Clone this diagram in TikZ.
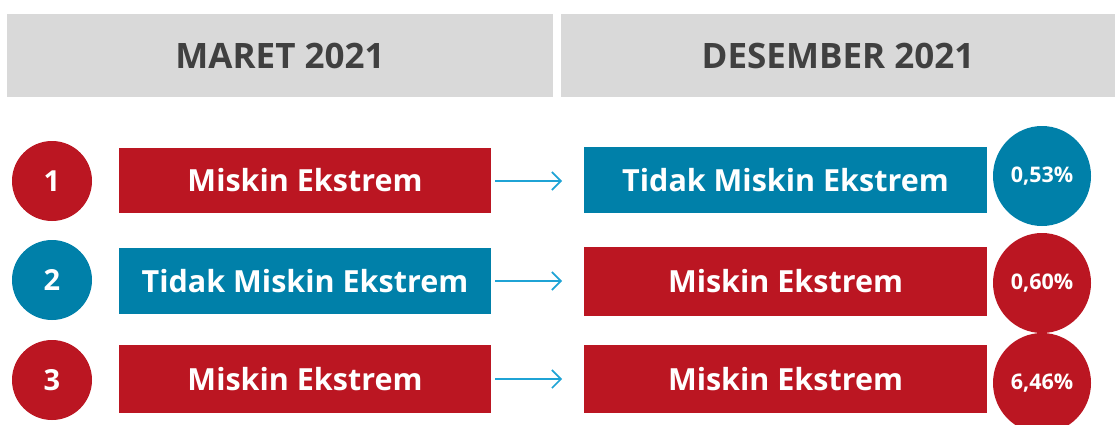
\documentclass[tikz,border=0pt]{standalone}
\usepackage{fontspec}
\setmainfont{Open Sans}
\usetikzlibrary{arrows.meta,shapes.geometric}
\definecolor{cred}{HTML}{BB1622}
\definecolor{cblue}{HTML}{0080A9}
\definecolor{cgray}{HTML}{D9D9D9}
\definecolor{ctext}{HTML}{404040}
\definecolor{carrow}{HTML}{1FA3D5}
\tikzset{
  hdr/.style={text=ctext,font=\bfseries\fontsize{35}{38}\selectfont,inner sep=0pt},
  bar/.style={text=white,font=\bfseries\fontsize{30.5}{36}\selectfont,inner sep=0pt},
  numc/.style={circle,minimum size=80pt,inner sep=0pt,text=white,font=\bfseries\fontsize{29}{32}\selectfont},
  pct/.style={ellipse,minimum width=98pt,minimum height=100pt,inner sep=0pt,text=white,font=\bfseries\fontsize{21.5}{24}\selectfont},
  conn/.style={draw=carrow,line width=1.6pt,-{Straight Barb[length=9pt,width=18pt,line width=1.6pt]}},
}
\begin{document}
\begin{tikzpicture}[x=1pt,y=-1pt]
\useasboundingbox (0,0) rectangle (1115,425);
% headers
\fill[cgray] (7,14) rectangle (553,97);
\fill[cgray] (561,14) rectangle (1115,97);
\node[hdr] (h1) at (280,55.5) {MARET 2021};
\node[hdr] (h2) at (838,55.5) {DESEMBER 2021};
% row 1
\node[numc,fill=cred] (n1) at (52,181) {1};
\node[bar,fill=cred,minimum width=372pt,minimum height=65pt] (a1) at (305,180.5) {Miskin Ekstrem};
\node[bar,fill=cblue,minimum width=403pt,minimum height=66pt] (b1) at (785.5,180) {Tidak Miskin Ekstrem};
\node[pct,fill=cblue] (p1) at (1042,176) {0,53\%};
\coordinate (s1) at (495,181);
\coordinate (e1) at (562,181);
\draw[conn] (s1) -- (e1);
% row 2
\node[numc,fill=cblue] (n2) at (52,280) {2};
\node[bar,fill=cblue,minimum width=372pt,minimum height=66pt] (a2) at (305,281) {Tidak Miskin Ekstrem};
\node[bar,fill=cred,minimum width=403pt,minimum height=69pt] (b2) at (785.5,281.5) {Miskin Ekstrem};
\node[pct,fill=cred] (p2) at (1042,283) {0,60\%};
\coordinate (s2) at (495,281);
\coordinate (e2) at (562,281);
\draw[conn] (s2) -- (e2);
% row 3
\node[numc,fill=cred] (n3) at (52,380) {3};
\node[bar,fill=cred,minimum width=372pt,minimum height=68pt] (a3) at (305,379) {Miskin Ekstrem};
\node[bar,fill=cred,minimum width=403pt,minimum height=68pt] (b3) at (785.5,379) {Miskin Ekstrem};
\node[pct,fill=cred] (p3) at (1042,383) {6,46\%};
\coordinate (s3) at (495,379);
\coordinate (e3) at (562,379);
\draw[conn] (s3) -- (e3);
\end{tikzpicture}
\end{document}
